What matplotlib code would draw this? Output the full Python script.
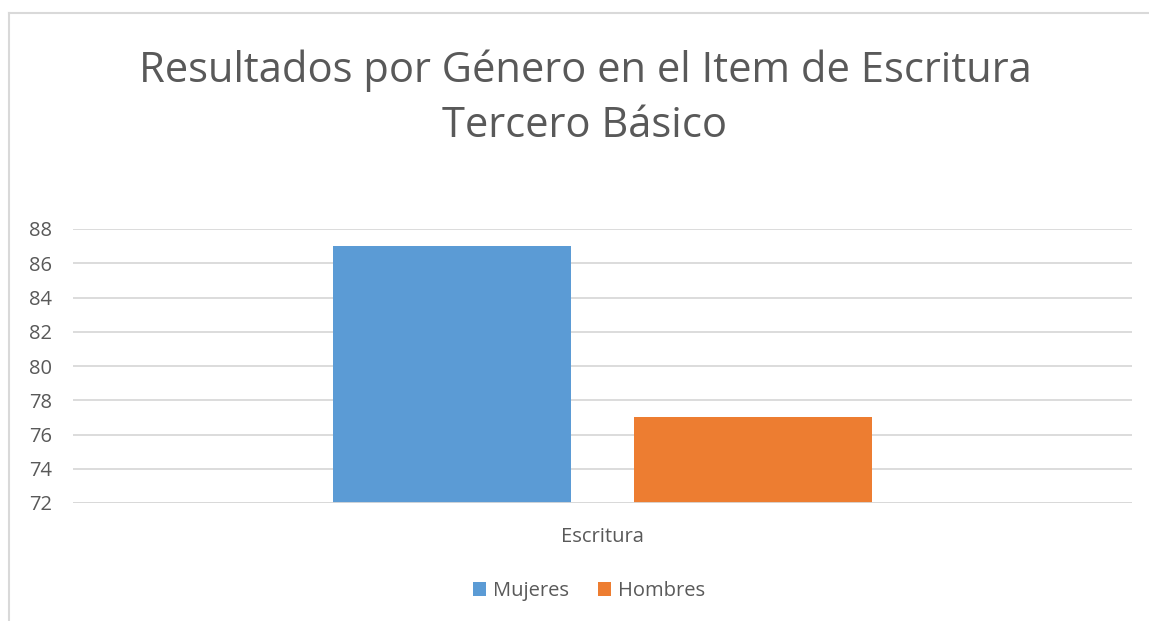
import matplotlib
matplotlib.use("Agg")
import matplotlib.pyplot as plt
from matplotlib.patches import Patch
from matplotlib.lines import Line2D

categories = ["Escritura"]
series_names = ["Mujeres", "Hombres"]
mujeres = [87]
hombres = [77]
yticks = [72, 74, 76, 78, 80, 82, 84, 86, 88]
title = "Resultados por Género en el Item de Escritura\nTercero Básico"

colors = ["#5b9bd5", "#ed7d31"]
text_color = "#595959"
grid_color = "#d9d9d9"

plt.rcParams['font.family'] = ['Open Sans', 'DejaVu Sans']

fig = plt.figure(figsize=(11.49, 6.21), dpi=100)
W, H = 1149, 621
ax = fig.add_axes([73 / W, 1 - 503 / H, (1132 - 73) / W, (503 - 229) / H])

bw = 0.2247
off = 0.1421
x0 = 0
ax.bar([x0 - off], mujeres, width=bw, bottom=0, color=colors[0], zorder=3, label=series_names[0])
ax.bar([x0 + off], hombres, width=bw, bottom=0, color=colors[1], zorder=3, label=series_names[1])

ax.set_xlim(-0.5, 0.5)
ax.set_ylim(72, 88)
ax.set_yticks(yticks)
ax.set_yticklabels([str(t) for t in yticks], fontsize=14.5, color=text_color)
ax.set_xticks([0])
ax.set_xticklabels(categories, fontsize=14.5, color=text_color)
ax.tick_params(axis='y', length=0, pad=15)
ax.tick_params(axis='x', length=0, pad=17)
ax.yaxis.grid(True, color=grid_color, linewidth=1.3, zorder=0)
ax.set_axisbelow(True)
for s in ax.spines.values():
    s.set_visible(False)
ax.axhline(72, color=grid_color, linewidth=1.3, zorder=4)

fig.text(585 / W, 1 - 98.5 / H, title, ha='center', va='center', fontsize=30,
         color=text_color, linespacing=1.42)

handles = [Patch(facecolor=c, edgecolor='none') for c in colors]
leg = fig.legend(handles, series_names, loc='center', bbox_to_anchor=(589 / W, 1 - 591 / H),
                 ncol=2, frameon=False, fontsize=14.5, handlelength=0.65, handleheight=0.65,
                 handletextpad=0.35, columnspacing=1.4)
for t in leg.get_texts():
    t.set_color(text_color)

# outer border lines (top and left)
fig.add_artist(Line2D([9 / W, 1], [1 - 13 / H, 1 - 13 / H], color=grid_color, linewidth=1.5))
fig.add_artist(Line2D([9 / W, 9 / W], [0, 1 - 13 / H], color=grid_color, linewidth=1.5))

fig.savefig("out.png", dpi=100, facecolor="white")
